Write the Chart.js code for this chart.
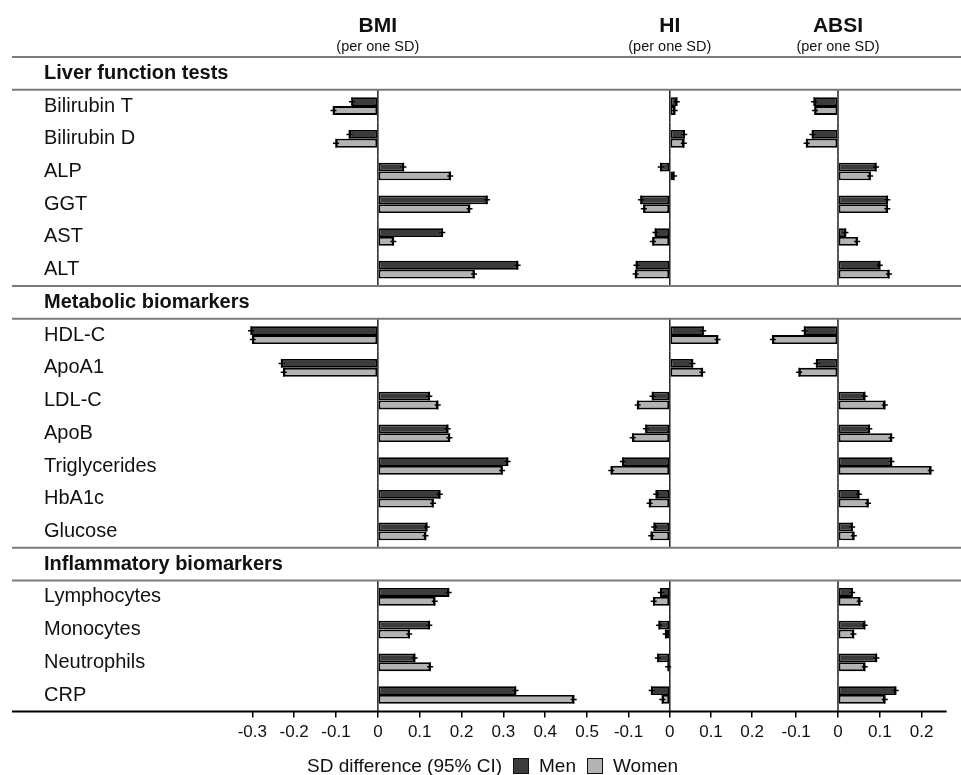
<!DOCTYPE html>
<html><head><meta charset="utf-8">
<script src="https://cdn.jsdelivr.net/npm/chart.js@4.4.1/dist/chart.umd.min.js"></script>
<style>
html,body{margin:0;padding:0;background:#fff;}
#wrap{position:relative;width:961px;height:775px;overflow:hidden;font-family:"Liberation Sans",Arial,sans-serif;color:#111;}
canvas{position:absolute;top:0;}
.ttl{position:absolute;top:13px;width:160px;text-align:center;font-weight:bold;font-size:21px;line-height:24px;}
.sub{position:absolute;top:38px;width:160px;text-align:center;font-size:14.5px;line-height:16px;}
#legend{position:absolute;left:307px;top:756px;height:20px;display:flex;align-items:center;font-size:19px;line-height:20px;white-space:nowrap;}
.sw{display:inline-block;width:14px;height:14px;border:1.5px solid #111;margin:0 10px 0 11px;}
</style></head><body>
<div id="wrap">
  <canvas id="c1" width="608" height="775" style="left:0px"></canvas>
  <canvas id="c2" width="161" height="775" style="left:608px"></canvas>
  <canvas id="c3" width="192" height="775" style="left:769px"></canvas>
  <div class="ttl" id="t1">BMI</div><div class="sub" id="s1">(per one SD)</div>
  <div class="ttl" id="t2">HI</div><div class="sub" id="s2">(per one SD)</div>
  <div class="ttl" id="t3">ABSI</div><div class="sub" id="s3">(per one SD)</div>
  <div id="legend"><span>SD difference (95% CI)</span><span class="sw" style="background:#3b3b3b"></span><span>Men</span><span class="sw" style="background:#b3b3b3"></span><span>Women</span></div>
</div>
<script>
const ROWS = ["Liver function tests","Bilirubin T","Bilirubin D","ALP","GGT","AST","ALT",
  "Metabolic biomarkers","HDL-C","ApoA1","LDL-C","ApoB","Triglycerides","HbA1c","Glucose",
  "Inflammatory biomarkers","Lymphocytes","Monocytes","Neutrophils","CRP"];
const HEADERS = ["Liver function tests","Metabolic biomarkers","Inflammatory biomarkers"];
const PANELS = ["BMI","HI","ABSI"];

const BMI_MEN   = [null,-0.062,-0.068,0.061,0.261,0.154,0.334,null,-0.303,-0.230,0.123,0.167,0.310,0.148,0.117,null,0.169,0.123,0.088,0.329];
const BMI_WOMEN = [null,-0.106,-0.100,0.173,0.219,0.037,0.230,null,-0.299,-0.225,0.143,0.171,0.297,0.132,0.114,null,0.136,0.075,0.125,0.468];
const HI_MEN    = [null,0.017,0.035,-0.022,-0.070,-0.035,-0.081,null,0.081,0.055,-0.042,-0.058,-0.114,-0.033,-0.038,null,-0.022,-0.026,-0.029,-0.044];
const HI_WOMEN  = [null,0.012,0.034,0.010,-0.063,-0.041,-0.083,null,0.116,0.079,-0.078,-0.090,-0.142,-0.049,-0.045,null,-0.039,-0.010,-0.004,-0.018];
const ABSI_MEN  = [null,-0.057,-0.061,0.091,0.118,0.018,0.100,null,-0.080,-0.051,0.064,0.075,0.128,0.050,0.034,null,0.034,0.064,0.092,0.138];
const ABSI_WOMEN= [null,-0.055,-0.075,0.077,0.118,0.046,0.122,null,-0.156,-0.093,0.112,0.128,0.222,0.072,0.038,null,0.052,0.037,0.064,0.112];

const BMI_TICKS  = [-0.3,-0.2,-0.1,0,0.1,0.2,0.3,0.4,0.5];
const HI_TICKS   = [-0.1,0,0.1,0.2];
const ABSI_TICKS = [-0.1,0,0.1,0.2];

const FONT = '"Liberation Sans", Arial, sans-serif';
const AREA_TOP = 57, AREA_BOTTOM = 711.4, H = 775, LABEL_X = 44, AREA_LEFT = 231.4;

function rowBounds(chart, i){
  const ca = chart.chartArea;
  const pitch = (ca.bottom - ca.top) / ROWS.length;
  const c = chart.scales.y.getPixelForValue(i);
  return [c - pitch/2, c + pitch/2];
}

const decor = {
  id: 'decor',
  beforeDatasetsDraw(chart, args, o){
    const ctx = chart.ctx, ca = chart.chartArea;
    const x0 = chart.scales.x.getPixelForValue(0);
    ctx.save();
    ctx.strokeStyle = '#222'; ctx.lineWidth = 1.5;
    ROWS.forEach((r,i)=>{
      if (HEADERS.includes(r)) return;
      const [a,b] = rowBounds(chart,i);
      ctx.beginPath(); ctx.moveTo(x0,a); ctx.lineTo(x0,b); ctx.stroke();
    });
    ctx.strokeStyle = '#7a7a7a'; ctx.lineWidth = 2;
    ROWS.forEach((r,i)=>{
      if (!HEADERS.includes(r)) return;
      rowBounds(chart,i).forEach(yy=>{
        ctx.beginPath(); ctx.moveTo(o.lineLeft, yy); ctx.lineTo(chart.width, yy); ctx.stroke();
      });
    });
    ctx.strokeStyle = '#000'; ctx.lineWidth = 2;
    ctx.beginPath();
    ctx.moveTo(o.lineLeft, ca.bottom);
    ctx.lineTo(o.axisToArea ? ca.right : chart.width, ca.bottom);
    ctx.stroke();
    ctx.restore();
  },
  afterDatasetsDraw(chart){
    const ctx = chart.ctx;
    ctx.save();
    ctx.strokeStyle = '#000'; ctx.lineWidth = 1.5;
    chart.data.datasets.forEach((ds,di)=>{
      const meta = chart.getDatasetMeta(di);
      meta.data.forEach((el,i)=>{
        if (ds.data[i] == null) return;
        const h = el.height / 2;
        ctx.beginPath();
        ctx.moveTo(el.x, el.y - h); ctx.lineTo(el.x, el.y + h);
        ctx.moveTo(el.x - 3, el.y); ctx.lineTo(el.x + 3, el.y);
        ctx.stroke();
      });
    });
    ctx.restore();
  }
};

function makeChart(id, men, women, min, max, ticks, first, pad){
  const ds = (label, data, color) => ({label, data, backgroundColor: color, borderColor: '#000',
    borderWidth: 1.8, borderSkipped: false, categoryPercentage: 0.54, barPercentage: 1, clip: false});
  return new Chart(document.getElementById(id), {
    type: 'bar',
    data: { labels: ROWS, datasets: [ds('Men', men, '#3b3b3b'), ds('Women', women, '#b3b3b3')] },
    options: {
      indexAxis: 'y',
      responsive: false,
      animation: false,
      layout: { padding: { top: AREA_TOP, left: first ? LABEL_X : 0, right: pad, bottom: 0 } },
      plugins: {
        legend: { display: false },
        tooltip: { enabled: false },
        decor: { lineLeft: first ? 12 : 0, axisToArea: id === 'c3' }
      },
      scales: {
        x: {
          type: 'linear', min: min, max: max,
          afterBuildTicks: s => { s.ticks = ticks.map(v => ({value: v})); },
          afterFit: s => { s.height = H - AREA_BOTTOM; },
          grid: { drawOnChartArea: false, drawTicks: true, tickLength: 6, color: '#000', lineWidth: 1.5 },
          border: { display: false },
          ticks: { padding: 5, color: '#111', maxRotation: 0, autoSkip: false,
            font: { family: FONT, size: 17 },
            callback: v => (v === 0 ? '0' : String(v)) }
        },
        y: {
          type: 'category',
          display: first,
          afterFit: s => { if (first) s.width = AREA_LEFT - LABEL_X; },
          grid: { display: false },
          border: { display: false },
          ticks: { mirror: true, crossAlign: 'near', autoSkip: false, padding: LABEL_X - AREA_LEFT, color: '#111',
            font: ctx => ({ family: FONT, size: 20, weight: HEADERS.includes(ROWS[ctx.index]) ? 'bold' : 'normal' }) }
        }
      }
    },
    plugins: [decor]
  });
}

const charts = [
  makeChart('c1', BMI_MEN, BMI_WOMEN, -0.35, 0.55, BMI_TICKS, true, 0),
  makeChart('c2', HI_MEN, HI_WOMEN, -0.15, 0.235, HI_TICKS, false, 0),
  makeChart('c3', ABSI_MEN, ABSI_WOMEN, -0.165, 0.26, ABSI_TICKS, false, 14.35)
];
const offs = [0, 608, 769];
charts.forEach((c, k) => {
  const x0 = offs[k] + c.scales.x.getPixelForValue(0);
  document.getElementById('t' + (k+1)).style.left = (x0 - 80) + 'px';
  document.getElementById('s' + (k+1)).style.left = (x0 - 80) + 'px';
});
</script>
</body></html>
